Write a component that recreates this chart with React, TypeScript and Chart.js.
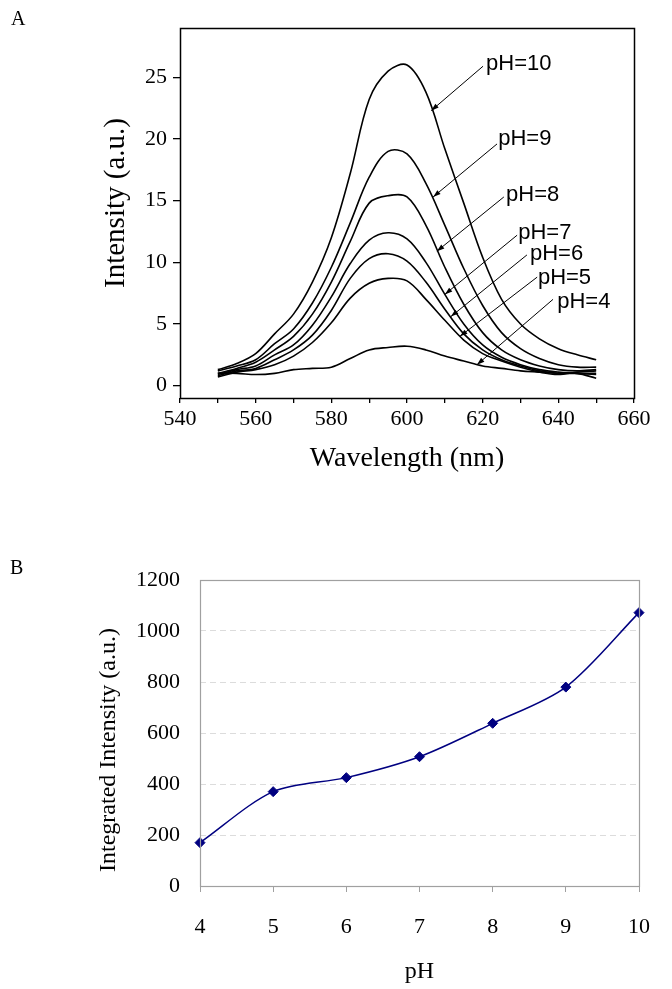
import React, { useEffect, useRef } from 'react';
import { Chart, registerables } from 'chart.js';

Chart.register(...registerables);

// ---------- Panel A data ----------
const wavelengths = [550, 555, 560, 565, 570, 575, 580, 585, 590, 595, 600, 605, 610, 615, 620, 625, 630, 635, 640, 645, 650];
const intensityPH10 = [1.3, 1.8, 2.6, 4.2, 5.8, 8.4, 12.0, 17.2, 23.2, 25.5, 26.0, 23.8, 19.2, 14.8, 10.4, 7.0, 5.0, 3.8, 3.0, 2.5, 2.1];
const intensityPH9 = [1.2, 1.6, 2.1, 3.4, 4.6, 6.7, 9.6, 13.2, 16.9, 19.0, 18.8, 16.4, 13.0, 9.5, 6.5, 4.3, 3.0, 2.2, 1.7, 1.5, 1.5];
const intensityPH8 = [1.0, 1.4, 1.9, 2.9, 4.0, 5.8, 8.4, 11.7, 14.8, 15.4, 15.3, 13.0, 9.6, 6.6, 4.3, 2.9, 2.1, 1.6, 1.3, 1.2, 1.3];
const intensityPH7 = [0.9, 1.3, 1.6, 2.5, 3.3, 4.9, 7.2, 9.9, 11.8, 12.4, 11.9, 10.0, 7.4, 5.0, 3.3, 2.3, 1.7, 1.3, 1.1, 1.0, 0.9];
const intensityPH6 = [0.8, 1.2, 1.4, 2.1, 2.9, 4.1, 6.1, 8.7, 10.3, 10.7, 10.1, 8.4, 6.2, 4.2, 2.9, 2.1, 1.6, 1.2, 1.0, 1.0, 0.6];
const intensityPH5 = [0.7, 1.1, 1.3, 1.7, 2.4, 3.5, 5.1, 7.1, 8.3, 8.7, 8.5, 7.0, 5.3, 3.7, 2.6, 2.0, 1.5, 1.1, 0.9, 1.1, 1.2];
const intensityPH4 = [1.0, 1.0, 0.9, 1.0, 1.3, 1.4, 1.5, 2.2, 2.9, 3.1, 3.2, 2.9, 2.4, 2.0, 1.6, 1.4, 1.2, 1.1, 1.0, 1.0, 1.0];

const spectraSeries = [intensityPH10, intensityPH9, intensityPH8, intensityPH7, intensityPH6, intensityPH5, intensityPH4];

// Annotation labels (data coordinates: nm, intensity)
const annotationLabels = ['pH=10', 'pH=9', 'pH=8', 'pH=7', 'pH=6', 'pH=5', 'pH=4'];
const labelX = [620.9, 624.1, 626.2, 629.4, 632.5, 634.6, 639.7];
const labelY = [26.1, 20.0, 15.5, 12.4, 10.7, 8.7, 6.8];
const arrowFromX = [620.1, 623.8, 625.6, 629.1, 631.7, 634.4, 638.6];
const arrowFromY = [25.9, 19.6, 15.3, 12.2, 10.6, 8.8, 7.0];
const arrowToX = [606.4, 606.9, 607.9, 610.0, 611.6, 614.0, 618.5];
const arrowToY = [22.3, 15.3, 10.9, 7.4, 5.6, 4.0, 1.7];

const xTicksA = [540, 560, 580, 600, 620, 640, 660];
const yTicksA = [0, 5, 10, 15, 20, 25];

// ---------- Panel B data ----------
const phValues = [4, 5, 6, 7, 8, 9, 10];
const integratedIntensity = [170, 370, 425, 507, 638, 780, 1072];
const yTicksB = [0, 200, 400, 600, 800, 1000, 1200];

const SERIF = '"Liberation Serif", "Times New Roman", Times, serif';
const SANS = '"Liberation Sans", Arial, Helvetica, sans-serif';

const boxPlugin = (color: string, width: number) => ({
  id: 'boxFrame',
  afterDatasetsDraw(chart: any) {
    const { ctx, chartArea } = chart;
    const l = Math.round(chartArea.left) + 0.5;
    const t = Math.round(chartArea.top) + 0.5;
    const r = Math.round(chartArea.right) + 0.5;
    const b = Math.round(chartArea.bottom) + 0.5;
    ctx.save();
    ctx.strokeStyle = color;
    ctx.lineWidth = width;
    ctx.strokeRect(l, t, r - l, b - t);
    ctx.restore();
  },
});

// Vertical axis title drawn beside the y axis, shifted relative to the plot-area centre
const yTitlePlugin = (text: string, size: number, centerX: number, shiftY: number) => ({
  id: 'yAxisTitle',
  afterDraw(chart: any) {
    const { ctx, chartArea } = chart;
    const cy = (chartArea.top + chartArea.bottom) / 2 + shiftY;
    ctx.save();
    ctx.translate(centerX, cy);
    ctx.rotate(-Math.PI / 2);
    ctx.fillStyle = '#000';
    ctx.font = `${size}px ${SERIF}`;
    ctx.textAlign = 'center';
    ctx.textBaseline = 'middle';
    ctx.fillText(text, 0, 0);
    ctx.restore();
  },
});

const annotationPlugin = {
  id: 'phAnnotations',
  afterDatasetsDraw(chart: any) {
    const { ctx } = chart;
    const xs = chart.scales.x;
    const ys = chart.scales.y;
    ctx.save();
    ctx.fillStyle = '#000';
    ctx.strokeStyle = '#000';
    ctx.lineWidth = 1;
    ctx.font = `22px ${SANS}`;
    ctx.textAlign = 'left';
    ctx.textBaseline = 'middle';
    annotationLabels.forEach((lab, i) => {
      ctx.fillText(lab, xs.getPixelForValue(labelX[i]), ys.getPixelForValue(labelY[i]));
      const x1 = xs.getPixelForValue(arrowFromX[i]);
      const y1 = ys.getPixelForValue(arrowFromY[i]);
      const x2 = xs.getPixelForValue(arrowToX[i]);
      const y2 = ys.getPixelForValue(arrowToY[i]);
      ctx.beginPath();
      ctx.moveTo(x1, y1);
      ctx.lineTo(x2, y2);
      ctx.stroke();
      const ang = Math.atan2(y2 - y1, x2 - x1);
      const len = 8;
      const spread = 0.32;
      ctx.beginPath();
      ctx.moveTo(x2, y2);
      ctx.lineTo(x2 - len * Math.cos(ang - spread), y2 - len * Math.sin(ang - spread));
      ctx.lineTo(x2 - len * Math.cos(ang + spread), y2 - len * Math.sin(ang + spread));
      ctx.closePath();
      ctx.fill();
    });
    ctx.restore();
  },
};

function SpectraChart() {
  const ref = useRef<HTMLCanvasElement | null>(null);
  useEffect(() => {
    if (!ref.current) return;
    const chart = new Chart(ref.current, {
      type: 'line',
      data: {
        datasets: spectraSeries.map((series, i) => ({
          label: annotationLabels[i],
          data: wavelengths.map((w, j) => ({ x: w, y: series[j] })),
          borderColor: '#000',
          borderWidth: 1.6,
          pointRadius: 0,
          fill: false,
          tension: 0.35,
        })),
      },
      options: {
        responsive: false,
        animation: false,
        layout: { padding: { top: 28, right: 38, left: 0, bottom: 0 } },
        plugins: { legend: { display: false }, tooltip: { enabled: false } },
        scales: {
          x: {
            type: 'linear',
            min: 540,
            max: 660,
            afterFit: (s: any) => { s.height = 92; },
            afterBuildTicks: (s: any) => {
              const t: any[] = [];
              for (let v = 540; v <= 660; v += 10) t.push({ value: v });
              s.ticks = t;
            },
            ticks: {
              autoSkip: false,
              maxRotation: 0,
              padding: 3,
              color: '#000',
              font: { family: SERIF, size: 22 },
              callback: (v: any) => (xTicksA.includes(Number(v)) ? String(v) : ''),
            },
            grid: { drawOnChartArea: false, drawTicks: true, tickLength: 5, color: '#000', lineWidth: 1.3 },
            border: { display: false },
            title: {
              display: true,
              text: 'Wavelength (nm)',
              color: '#000',
              font: { family: SERIF, size: 28 },
              padding: { top: 0, bottom: 15 },
            },
          },
          y: {
            type: 'linear',
            min: -1,
            max: 29,
            afterFit: (s: any) => { s.width = 180; },
            afterBuildTicks: (s: any) => { s.ticks = yTicksA.map((v) => ({ value: v })); },
            ticks: {
              padding: 6,
              color: '#000',
              font: { family: SERIF, size: 22 },
              callback: (v: any) => String(v),
            },
            grid: { drawOnChartArea: false, drawTicks: true, tickLength: 7, color: '#000', lineWidth: 1.3 },
            border: { display: false },
          },
        },
      },
      plugins: [boxPlugin('#000', 1.5), annotationPlugin, yTitlePlugin('Intensity (a.u.)', 29, 116, -10)],
    } as any);
    return () => chart.destroy();
  }, []);
  return <canvas ref={ref} width={672} height={490} style={{ display: 'block' }} />;
}

function IntegratedChart() {
  const ref = useRef<HTMLCanvasElement | null>(null);
  useEffect(() => {
    if (!ref.current) return;
    const chart = new Chart(ref.current, {
      type: 'line',
      data: {
        datasets: [
          {
            label: 'Integrated Intensity',
            data: phValues.map((p, i) => ({ x: p, y: integratedIntensity[i] })),
            borderColor: '#000080',
            backgroundColor: '#000080',
            borderWidth: 1.5,
            pointStyle: 'rectRot',
            pointRadius: 5,
            pointBorderWidth: 1,
            pointBorderColor: '#000080',
            pointBackgroundColor: '#000080',
            tension: 0.3,
            fill: false,
            clip: false,
          },
        ],
      },
      options: {
        responsive: false,
        animation: false,
        layout: { padding: { top: 60, right: 17, left: 0, bottom: 0 } },
        plugins: { legend: { display: false }, tooltip: { enabled: false } },
        scales: {
          x: {
            type: 'linear',
            min: 4,
            max: 10,
            afterFit: (s: any) => { s.height = 103; },
            afterBuildTicks: (s: any) => { s.ticks = phValues.map((v) => ({ value: v })); },
            ticks: {
              autoSkip: false,
              maxRotation: 0,
              padding: 22,
              color: '#000',
              font: { family: SERIF, size: 22 },
              callback: (v: any) => String(v),
            },
            grid: { drawOnChartArea: false, drawTicks: true, tickLength: 6, color: '#a0a0a0', lineWidth: 1 },
            border: { display: false },
            title: {
              display: true,
              text: 'pH',
              color: '#000',
              font: { family: SERIF, size: 24 },
              padding: { top: 0, bottom: 3 },
            },
          },
          y: {
            type: 'linear',
            min: 0,
            max: 1200,
            afterFit: (s: any) => { s.width = 200; },
            afterBuildTicks: (s: any) => { s.ticks = yTicksB.map((v) => ({ value: v })); },
            ticks: {
              padding: 20,
              color: '#000',
              font: { family: SERIF, size: 22 },
              callback: (v: any) => String(v),
            },
            grid: { drawOnChartArea: true, drawTicks: false, color: '#dcdcdc', lineWidth: 1 },
            border: { display: false, dash: [6, 4] },
          },
        },
      },
      plugins: [boxPlugin('#a0a0a0', 1.2), yTitlePlugin('Integrated Intensity (a.u.)', 24, 109, 17)],
    } as any);
    return () => chart.destroy();
  }, []);
  return <canvas ref={ref} width={672} height={469} style={{ display: 'block' }} />;
}

export default function App() {
  return (
    <div style={{ position: 'absolute', left: 0, top: 0, width: 672, height: 989, background: '#fff', overflow: 'hidden' }}>
      <div style={{ position: 'absolute', left: 0, top: 0 }}>
        <SpectraChart />
      </div>
      <div style={{ position: 'absolute', left: 0, top: 520 }}>
        <IntegratedChart />
      </div>
      <div style={{ position: 'absolute', left: 11, top: 8, fontFamily: SERIF, fontSize: 20, lineHeight: '20px' }}>A</div>
      <div style={{ position: 'absolute', left: 10, top: 557, fontFamily: SERIF, fontSize: 20, lineHeight: '20px' }}>B</div>
    </div>
  );
}
